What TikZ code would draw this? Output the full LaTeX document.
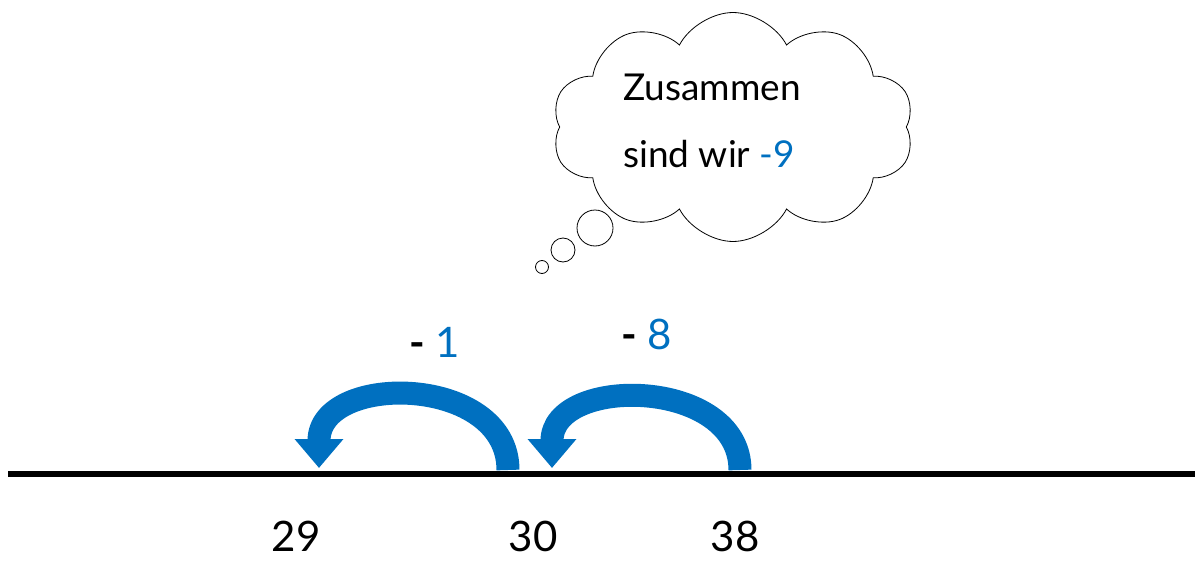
\documentclass[tikz,border=0pt]{standalone}
\usepackage{fontspec}
\setmainfont{Lato}
\usetikzlibrary{
    shapes.symbols,
    arrows.meta
}
\definecolor{jumpblue}{HTML}{0070C0}
\tikzset {
    numline/.style = {line width = 6pt},
    jump/.style = {
        draw = jumpblue,
        line width = 23pt,
        arrows = {-Triangle[width = 47pt, length = 29pt, fill = jumpblue]}
    },
    tick label/.style = {anchor = base, inner sep = 0pt, font = \fontsize{42}{50}\selectfont},
    step label/.style = {anchor = base west, inner sep = 0pt, font = \fontsize{42}{50}\selectfont},
    cloud text/.style = {anchor = base west, inner sep = 0pt, font = \fontsize{37}{44}\selectfont},
    thought/.style = {cloud, draw, line width = 0.8pt, cloud puffs = 10,
        cloud puff arc = 125, aspect = 1.6, inner sep = 0pt},
    bubble/.style = {circle, draw, line width = 0.8pt, inner sep = 0pt}
}

\begin{document}
\begin{tikzpicture}[x = 1pt, y = -1pt]
    \useasboundingbox (0, 0) rectangle (1195, 562);
    % number line
    \coordinate (lstart) at (8, 474);
    \coordinate (lend) at (1195, 474);
    \draw [numline] (lstart) -- (lend);
    \node (n29) [tick label] at (296, 551) {29};
    \node (n30) [tick label] at (533, 551) {30};
    \node (n38) [tick label] at (735, 551) {38};
    % jumps
    \coordinate (j1s) at (508, 470);
    \coordinate (j1e) at (319, 468);
    \coordinate (j2s) at (740, 470);
    \coordinate (j2e) at (552, 468);
    \draw [jump] (j1s) .. controls +(0, -96) and +(0, -96) .. (j1e);
    \draw [jump] (j2s) .. controls +(0, -93) and +(0, -93) .. (j2e);
    \node (s1) [step label] at (409, 357) {\textbf{-} \textcolor{jumpblue}{1}};
    \node (s8) [step label] at (621, 349) {\textbf{-} \textcolor{jumpblue}{8}};
    % thought cloud
    \node (c) [thought, minimum width = 362pt, minimum height = 229pt] at (733, 127) {};
    \node (b1) [bubble, minimum size = 36pt] at (595, 228) {};
    \node (b2) [bubble, minimum size = 24pt] at (563, 250) {};
    \node (b3) [bubble, minimum size = 13pt] at (542, 267) {};
    \node (t1) [cloud text] at (623, 100) {Zusammen};
    \node (t2) [cloud text] at (623, 167) {sind wir \textcolor{jumpblue}{-9}};
\end{tikzpicture}
\end{document}
